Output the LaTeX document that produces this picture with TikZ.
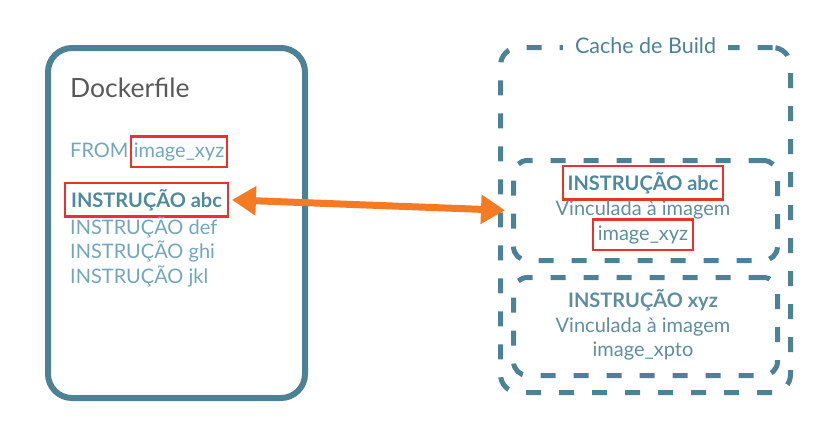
\documentclass[tikz,border=0pt]{standalone}
\usepackage{fontspec}
\setmainfont{Lato}
\usetikzlibrary{arrows.meta,positioning}
\definecolor{FrameClr}{HTML}{4D8296}
\definecolor{LineClr}{HTML}{72A6BA}
\definecolor{KeyClr}{HTML}{4F899E}
\definecolor{CacheTxtClr}{HTML}{5E8E9F}
\definecolor{MarkClr}{HTML}{E8322B}
\definecolor{ArrowClr}{HTML}{F47A24}
\tikzset{
  solidbox/.style={draw=FrameClr,line width=6pt,rounded corners=24pt,anchor=north west,inner sep=0pt},
  dashbox/.style={draw=FrameClr,line width=5pt,dash pattern=on 15pt off 18pt,rounded corners=18pt,anchor=north west,inner sep=0pt},
  plain/.style={inner sep=0pt,font=\fontsize{20}{22}\selectfont},
  redmark/.style={draw=MarkClr,line width=2.2pt,inner xsep=5pt,inner ysep=6pt},
  keyline/.style={plain,font=\fontsize{20}{22}\selectfont\bfseries,text=KeyClr},
  cachetxt/.style={plain,text=CacheTxtClr}
}
\newcommand{\CodeLine}[3]{\node[plain,text=LineClr,anchor=base west] (#1) at (70,#2) {#3};}
\begin{document}
\begin{tikzpicture}[x=1pt,y=-1pt]
\useasboundingbox (0,0) rectangle (820,431);
\node[solidbox,minimum width=257pt,minimum height=350pt] (dockerfile) at (45,45) {};
\node[plain,anchor=base west,text=black!65,font=\fontsize{26.5}{28}\selectfont] (title) at (70,97) {Dockerfile};
\CodeLine{from}{157}{FROM}
\node[plain,redmark,inner xsep=3pt,text=LineClr,anchor=base west] (fromimg) at ([xshift=1pt]from.base east) {image\_xyz};
\node[keyline,redmark,inner xsep=6pt,anchor=base west] (abc) at (64,207) {INSTRUÇÃO abc};
\CodeLine{def}{234}{INSTRUÇÃO def}
\CodeLine{ghi}{258}{INSTRUÇÃO ghi}
\CodeLine{jkl}{283}{INSTRUÇÃO jkl}
\node[dashbox,minimum width=290pt,minimum height=345pt] (cache) at (498,45) {};
\node[cachetxt,fill=white,inner xsep=12pt,inner ysep=4pt,text=FrameClr,font=\fontsize{21.5}{24}\selectfont] (cachetitle) at ([yshift=-1pt]cache.north) {Cache de Build};
\node[dashbox,minimum width=264pt,minimum height=100pt,rounded corners=14pt] (hit) at (511,158) {};
\node[keyline,redmark,anchor=base] (hitins) at (643,190) {INSTRUÇÃO abc};
\node[cachetxt,anchor=base] (hitlink) at (643,215) {Vinculada à imagem};
\node[cachetxt,redmark,anchor=base] (hitimg) at (643,240) {image\_xyz};
\node[dashbox,minimum width=264pt,minimum height=98pt,rounded corners=14pt] (miss) at (511,275) {};
\node[keyline,text=CacheTxtClr,anchor=base] (missins) at (643,307) {INSTRUÇÃO xyz};
\node[cachetxt,anchor=base] (misslink) at (643,332) {Vinculada à imagem};
\node[cachetxt,anchor=base] (missimg) at (643,356) {image\_xpto};
\draw[ArrowClr,line width=7pt,{Triangle[length=24pt,width=28pt]}-{Triangle[length=24pt,width=28pt]},shorten <=3pt,shorten >=6pt] (abc.east) -- (hit.west);
\end{tikzpicture}
\end{document}
